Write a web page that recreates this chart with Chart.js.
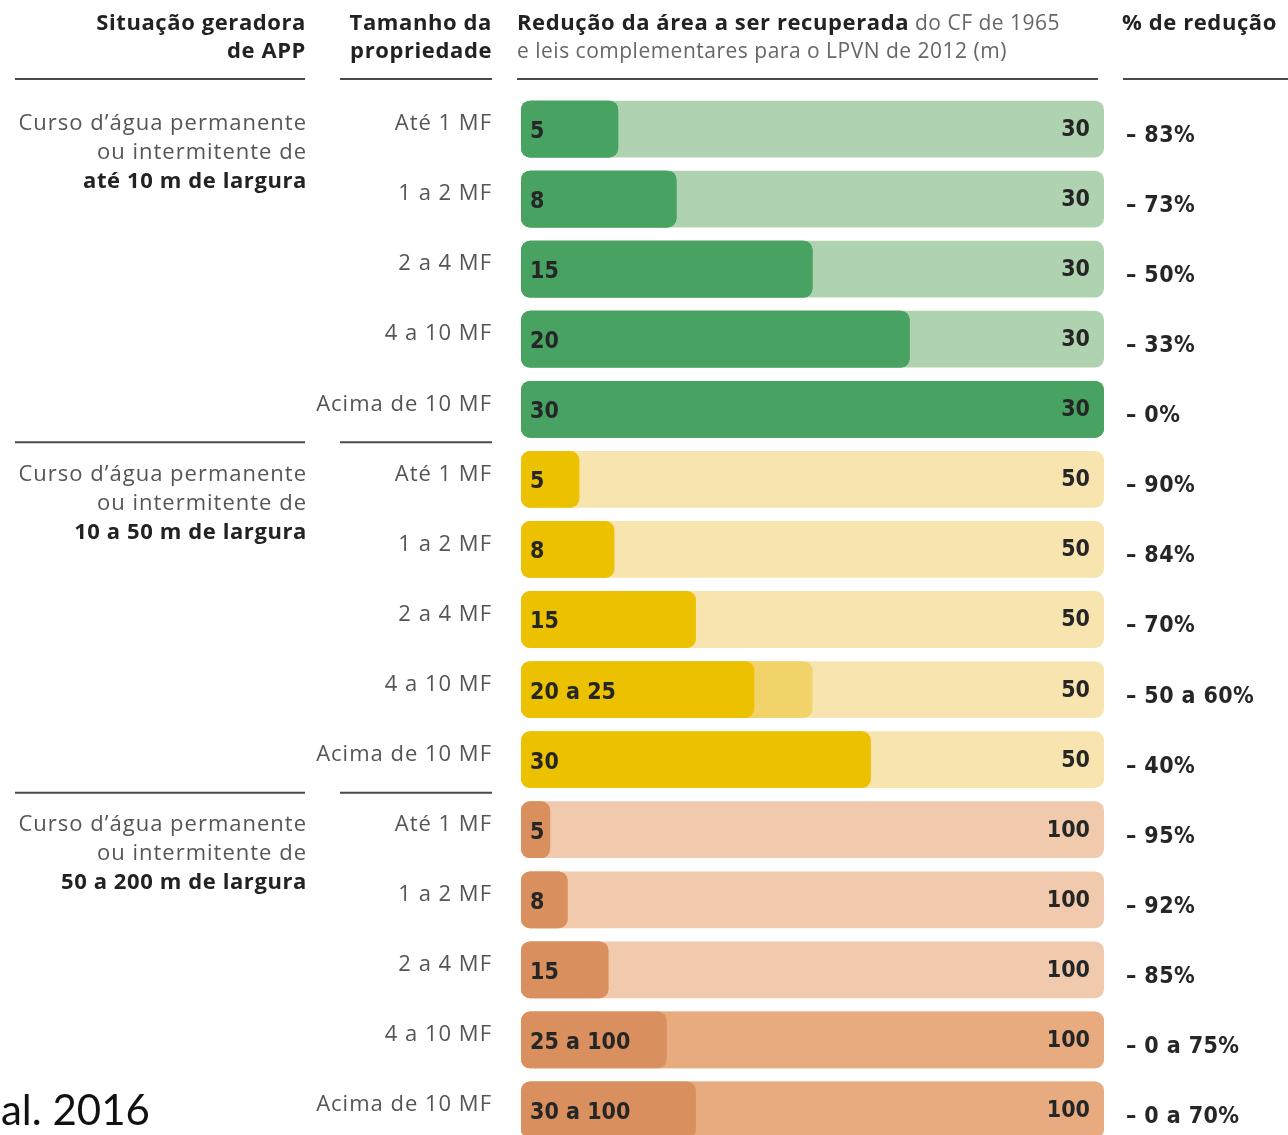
<!DOCTYPE html>
<html lang="pt">
<head>
<meta charset="UTF-8">
<title>Redução da área a ser recuperada</title>
<script src="https://cdn.jsdelivr.net/npm/chart.js@4.4.1/dist/chart.umd.min.js"></script>
<style>
  html, body { margin: 0; padding: 0; background: #fff; overflow: hidden; }
  #wrap { position: absolute; left: 0; top: 0; width: 1288px; height: 1160px; }
</style>
</head>
<body>
<div id="wrap"><canvas id="myChart"></canvas></div>

<script>
// tamanhos de propriedade (uma linha por barra)
const sizes = [
  'Até 1 MF', '1 a 2 MF', '2 a 4 MF', '4 a 10 MF', 'Acima de 10 MF',
  'Até 1 MF', '1 a 2 MF', '2 a 4 MF', '4 a 10 MF', 'Acima de 10 MF',
  'Até 1 MF', '1 a 2 MF', '2 a 4 MF', '4 a 10 MF', 'Acima de 10 MF'
];
// situação geradora de APP (grupos de 5 linhas)
const groupLabels = [
  ['Curso d\u2019água permanente', 'ou intermitente de', 'até 10 m de largura'],
  ['Curso d\u2019água permanente', 'ou intermitente de', '10 a 50 m de largura'],
  ['Curso d\u2019água permanente', 'ou intermitente de', '50 a 200 m de largura']
];
// LPVN 2012 (m): mínimo e máximo da faixa
const lpvnMin = [5, 8, 15, 20, 30, 5, 8, 15, 20, 30, 5, 8, 15, 25, 30];
const lpvnMax = [5, 8, 15, 20, 30, 5, 8, 15, 25, 30, 5, 8, 15, 100, 100];
// CF 1965 (m)
const cf1965 = [30, 30, 30, 30, 30, 50, 50, 50, 50, 50, 100, 100, 100, 100, 100];
// % de redução
const reducao = ['– 83%', '– 73%', '– 50%', '– 33%', '– 0%',
                 '– 90%', '– 84%', '– 70%', '– 50 a 60%', '– 40%',
                 '– 95%', '– 92%', '– 85%', '– 0 a 75%', '– 0 a 70%'];

// cores por grupo: escuro, médio, claro
const palette = [
  ['#48a363', '#48a363', '#afd3b0'],
  ['#ecc100', '#f2d36a', '#f8e4ae'],
  ['#d98f5e', '#e8ab80', '#f1caad']
];
const groupOf = i => Math.floor(i / 5);
const col = k => sizes.map((_, i) => palette[groupOf(i)][k]);

// barras em % do valor do CF 1965 de cada linha
const pctMin = lpvnMin.map((v, i) => v / cf1965[i] * 100);
const pctMax = lpvnMax.map((v, i) => v / cf1965[i] * 100);
const pctFull = cf1965.map(() => 100);

const COND = "'DejaVu Sans Condensed', 'DejaVu Sans', sans-serif";
const SANS = "'Open Sans', 'Noto Sans', sans-serif";

const textPlugin = {
  id: 'textPlugin',
  afterDatasetsDraw(chart) {
    const c = chart.ctx;
    const xs = chart.scales.x, ys = chart.scales.y;
    const x0 = xs.getPixelForValue(0), x1 = xs.getPixelForValue(100);
    c.save();

    // cabeçalho
    c.fillStyle = '#222';
    c.textBaseline = 'middle';
    c.letterSpacing = '0.6px';
    c.font = 'bold 22px ' + SANS;
    c.textAlign = 'right';
    c.fillText('Situação geradora', 306, 24);
    c.fillText('de APP', 306, 52);
    c.fillText('Tamanho da', 492, 24);
    c.fillText('propriedade', 492, 52);
    c.textAlign = 'left';
    const t1 = 'Redução da área a ser recuperada';
    c.fillText(t1, 517, 24);
    const w1 = c.measureText(t1).width;
    c.fillText('% de redução', 1122, 24);
    c.font = '21px ' + SANS;
    c.letterSpacing = '0.5px';
    c.fillStyle = '#666';
    c.fillText(' do CF de 1965', 517 + w1, 24);
    c.fillText('e leis complementares para o LPVN de 2012 (m)', 517, 52);

    // linhas do cabeçalho
    c.strokeStyle = '#4a4a4a';
    c.lineWidth = 2;
    const rule = (y, full) => {
      c.beginPath();
      c.moveTo(15, y); c.lineTo(305, y);
      c.moveTo(340, y); c.lineTo(492, y);
      if (full) {
        c.moveTo(517, y); c.lineTo(1098, y);
        c.moveTo(1123, y); c.lineTo(1288, y);
      }
      c.stroke();
    };
    rule(79, true);

    sizes.forEach((s, i) => {
      const y = ys.getPixelForValue(i);
      // tamanho da propriedade
      c.font = '22px ' + SANS;
      c.letterSpacing = '1px';
      c.fillStyle = '#555';
      c.textAlign = 'right';
      c.fillText(s, 492, y - 5);

      // valores dentro da barra
      c.font = 'bold 23px ' + COND;
      c.letterSpacing = '0px';
      c.fillStyle = '#262626';
      c.textAlign = 'left';
      const lab = lpvnMin[i] === lpvnMax[i] ? String(lpvnMin[i]) : lpvnMin[i] + ' a ' + lpvnMax[i];
      c.fillText(lab, x0 + 9, y + 3);
      c.textAlign = 'right';
      c.fillText(String(cf1965[i]), x1 - 14, y + 1);

      // % de redução
      c.textAlign = 'left';
      c.letterSpacing = '0.4px';
      c.fillText(reducao[i], 1126, y + 7);

      // rótulo do grupo
      if (i % 5 === 0) {
        const g = groupLabels[groupOf(i)];
        c.textAlign = 'right';
        c.font = '22px ' + SANS;
        c.letterSpacing = '1px';
        c.fillStyle = '#555';
        c.fillText(g[0], 307, y - 5);
        c.fillText(g[1], 307, y + 24);
        c.font = 'bold 22px ' + SANS;
        c.letterSpacing = '0.6px';
        c.fillStyle = '#222';
        c.fillText(g[2], 307, y + 53);
      }
      // separador entre grupos
      if (i % 5 === 0 && i > 0) {
        const ySep = (ys.getPixelForValue(i - 1) + y) / 2 - 2;
        rule(ySep, false);
      }
    });

    // fonte (cortada)
    c.letterSpacing = '0px';
    c.font = '42px Lato, sans-serif';
    c.fillStyle = '#111';
    c.textAlign = 'left';
    c.textBaseline = 'alphabetic';
    c.fillText('al. 2016', 1, 1125);
    c.restore();
  }
};

const ctx = document.getElementById('myChart').getContext('2d');
const myChart = new Chart(ctx, {
  type: 'bar',
  data: {
    labels: sizes,
    datasets: [
      { label: 'LPVN 2012 (mín.)', data: pctMin, backgroundColor: col(0) },
      { label: 'LPVN 2012 (máx.)', data: pctMax, backgroundColor: col(1) },
      { label: 'CF 1965', data: pctFull, backgroundColor: col(2) }
    ]
  },
  options: {
    indexAxis: 'y',
    responsive: true,
    maintainAspectRatio: false,
    animation: false,
    datasets: {
      bar: {
        grouped: false,
        barPercentage: 0.81,
        categoryPercentage: 1,
        borderRadius: 9,
        borderSkipped: false
      }
    },
    layout: { padding: { left: 521, right: 184, top: 94, bottom: 15 } },
    scales: {
      x: { display: false, min: 0, max: 100 },
      y: { display: false }
    },
    plugins: {
      legend: { display: false },
      tooltip: { enabled: false }
    }
  },
  plugins: [textPlugin]
});
</script>
</body>
</html>
